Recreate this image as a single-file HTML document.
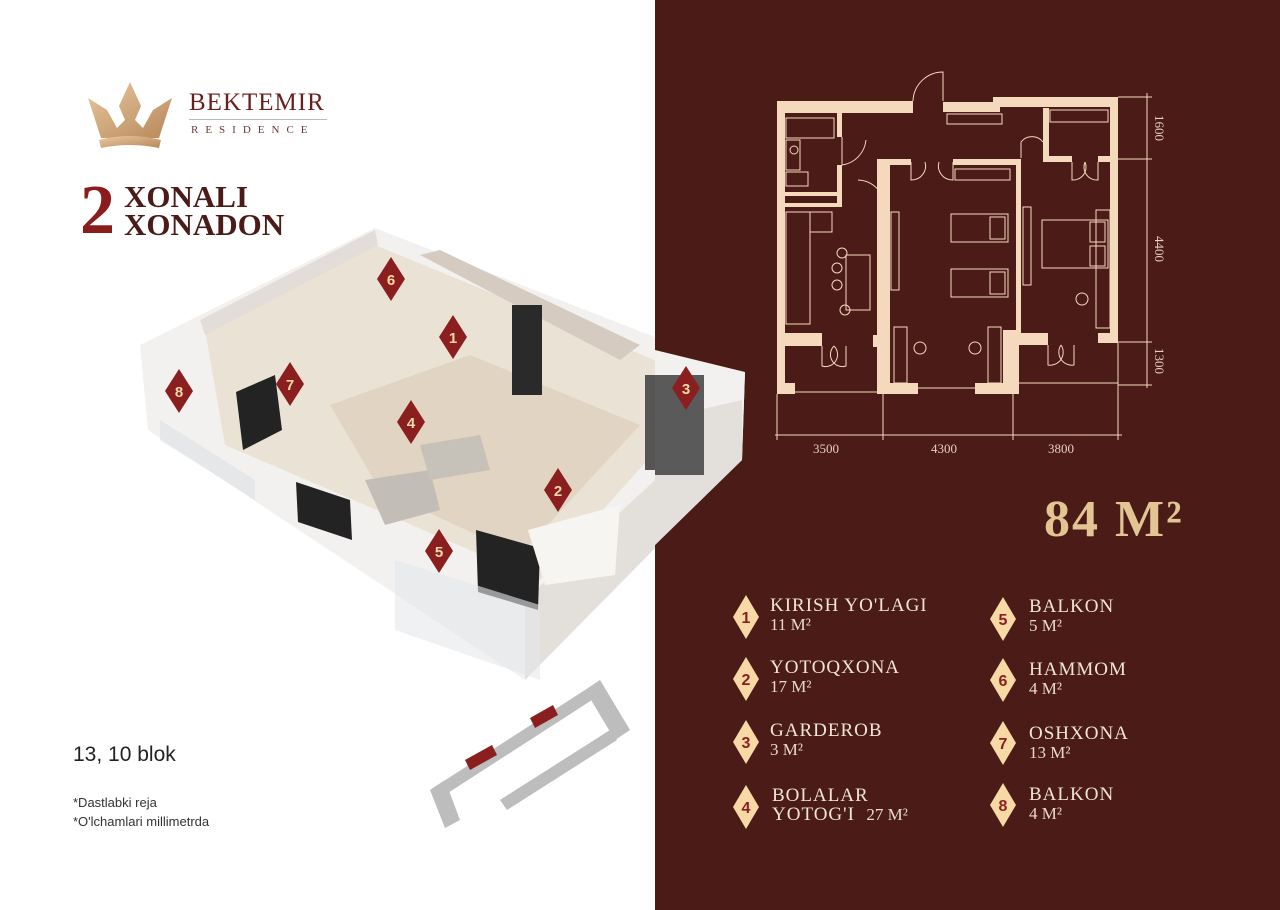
<!DOCTYPE html>
<html><head><meta charset="utf-8"><style>
body{margin:0;width:1280px;height:910px;position:relative;overflow:hidden;background:#fff;font-family:"Liberation Serif",serif}
.r{position:absolute;left:655px;top:0;width:625px;height:910px;background:#4a1b17}
.a{position:absolute}
.lg{position:absolute;color:#f1e4da;font-size:19px;line-height:19px;letter-spacing:1px}
.lg small{font-size:17px;letter-spacing:0;color:#e9d9ce}
</style></head><body>

<!-- 3D render approximation -->
<svg class="a" style="left:0;top:0" width="655" height="910">
<polygon points="140,345 375,228 745,372 742,460 525,680 148,430" fill="#f3f1ef"/>
<polygon points="525,600 742,400 742,460 525,680" fill="#e3dfdb"/>
<polygon points="205,330 375,245 715,385 540,580 225,445" fill="#ebe2d6"/>
<polygon points="330,405 470,355 640,425 520,555 380,490" fill="#e2d4c2"/>
<polygon points="420,255 440,250 640,345 620,360" fill="#d6cbc1"/>
<polygon points="200,320 375,230 378,245 205,335" fill="#e2ddd8"/>
<polygon points="236,392 275,375 282,430 243,450" fill="#232323"/>
<polygon points="296,482 350,500 352,540 298,522" fill="#232323"/>
<polygon points="476,530 540,548 538,610 478,592" fill="#232323"/>
<rect x="512" y="305" width="30" height="90" fill="#2a2a2a"/>
<rect x="645" y="375" width="10" height="95" fill="#555"/>
<polygon points="365,480 430,470 440,510 385,525" fill="#c2bdb7"/>
<polygon points="420,445 480,435 490,470 430,480" fill="#c6c1b9"/>
<polygon points="528,530 620,505 615,575 545,585" fill="#f7f5f2"/>
<polygon points="160,420 255,480 255,500 160,440" fill="#dfe3e6" opacity=".7"/>
<polygon points="395,560 540,605 540,680 395,630" fill="#e4e8ea" opacity=".6"/>
<g fill="#8b1f1f">
<polygon points="391,257 405,279 391,301 377,279"/><polygon points="453,315 467,337 453,359 439,337"/>
<polygon points="686,366 700,388 686,410 672,388"/><polygon points="411,400 425,422 411,444 397,422"/>
<polygon points="558,468 572,490 558,512 544,490"/><polygon points="439,529 453,551 439,573 425,551"/>
<polygon points="290,362 304,384 290,406 276,384"/><polygon points="179,369 193,391 179,413 165,391"/>
</g>
<g fill="#f3d9a8" font-family="Liberation Sans" font-weight="bold" font-size="15" text-anchor="middle">
<text x="391" y="285">6</text><text x="453" y="343">1</text><text x="411" y="428">4</text>
<text x="558" y="496">2</text><text x="439" y="557">5</text><text x="290" y="390">7</text><text x="179" y="397">8</text>
</g>
<g fill="#bdbdbd">
<polygon points="430,790 585,690 592,700 437,800"/>
<polygon points="500,800 610,730 617,740 507,810"/>
<polygon points="585,690 600,680 630,730 615,740"/>
<polygon points="430,790 445,780 460,820 445,828"/>
</g>
<polygon points="465,760 492,745 497,755 470,770" fill="#8b1f1f"/>
<polygon points="530,718 553,705 558,715 535,728" fill="#8b1f1f"/>
</svg>

<div class="r"></div>
<svg class="a" style="left:655px;top:0" width="100" height="500">
<polygon points="0,372 90,372 87,460 0,540" fill="#e6e2de"/>
<rect x="-10" y="375" width="59" height="100" fill="#555"/>
<polygon points="31,366 45,388 31,410 17,388" fill="#8b1f1f"/>
<text x="31" y="394" fill="#f3d9a8" font-family="Liberation Sans" font-weight="bold" font-size="15" text-anchor="middle">3</text>
</svg>
<svg class="a" style="left:655px;top:0" width="90" height="700">
<polygon points="0,350 90,372 87,460 0,545" fill="#f3f1ef"/>
<polygon points="0,420 87,400 87,460 0,545" fill="#e3dfdb"/>
<rect x="-10" y="375" width="59" height="100" fill="#5a5a5a"/>
<polygon points="31,366 45,388 31,410 17,388" fill="#8b1f1f"/>
<text x="31" y="394" fill="#f3d9a8" font-family="Liberation Sans" font-weight="bold" font-size="15" text-anchor="middle">3</text>
</svg>

<!-- logo -->
<svg class="a" style="left:85px;top:80px" width="90" height="70" viewBox="0 0 90 70">
<defs><linearGradient id="g" x1="0" y1="0" x2="1" y2="1"><stop offset="0" stop-color="#e8c9a0"/><stop offset="1" stop-color="#b8875a"/></linearGradient></defs>
<path d="M3 18 L22 30 L32 48 L40 40 L34 26 L45 2 L56 26 L50 40 L58 48 L68 30 L87 18 L74 58 L16 58 Z" fill="url(#g)"/>
<path d="M14 60 Q45 52 76 60 L74 68 Q45 62 16 68Z" fill="url(#g)"/>
</svg>
<div class="a" style="left:189px;top:89px;font-size:25px;color:#6b1f1c;letter-spacing:1px">BEKTEMIR</div>
<div class="a" style="left:189px;top:119px;width:138px;border-top:1px solid #bbb"></div>
<div class="a" style="left:191px;top:124px;font-size:11px;color:#6b3a36;letter-spacing:7px">RESIDENCE</div>
<div class="a" style="left:80px;top:176px;font-size:70px;font-weight:bold;color:#8b1c1c;line-height:70px">2</div>
<div class="a" style="left:124px;top:183px;font-size:31px;font-weight:bold;color:#4a1b17;line-height:28px">XONALI<br>XONADON</div>

<div class="a" style="left:73px;top:743px;font-family:'Liberation Sans',sans-serif;font-size:21px;color:#222">13, 10 blok</div>
<div class="a" style="left:73px;top:793px;font-family:'Liberation Sans',sans-serif;font-size:13px;color:#333;line-height:19px">*Dastlabki reja<br>*O'lchamlari millimetrda</div>

<!-- floor plan -->
<svg class="a" style="left:0;top:0" width="1280" height="910">
<g fill="#f5d9bd">
<rect x="777" y="101" width="8" height="293"/>
<rect x="777" y="101" width="136" height="12"/>
<rect x="943" y="102" width="57" height="10"/>
<rect x="993" y="97" width="125" height="10"/>
<rect x="1110" y="97" width="8" height="246"/>
<rect x="837" y="110" width="5" height="27"/>
<rect x="837" y="165" width="5" height="42"/>
<rect x="784" y="192" width="58" height="4"/>
<rect x="784" y="203" width="58" height="4"/>
<rect x="877" y="160" width="13" height="234"/>
<rect x="877" y="159" width="34" height="6"/>
<rect x="953" y="159" width="67" height="6"/>
<rect x="1016" y="159" width="5" height="180"/>
<rect x="1003" y="330" width="16" height="64"/>
<rect x="1043" y="108" width="6" height="54"/>
<rect x="1043" y="156" width="29" height="6"/>
<rect x="1098" y="156" width="15" height="6"/>
<rect x="777" y="383" width="18" height="11"/>
<rect x="877" y="383" width="41" height="11"/>
<rect x="975" y="383" width="43" height="11"/>
<rect x="783" y="333" width="39" height="13"/>
<rect x="1017" y="333" width="31" height="12"/>
<rect x="1098" y="333" width="20" height="10"/>
<rect x="873" y="335" width="6" height="12"/>
</g>
<g fill="none" stroke="#f5d9bd" stroke-width="1">
<path d="M913 101 A30 30 0 0 1 943 72 L943 101"/>
<path d="M842 137 L842 165 A28 28 0 0 0 866 140"/>
<path d="M885 208 A28 28 0 0 0 858 180"/>
<path d="M911 162 L911 180 A14 14 0 0 0 925 162 M953 162 L953 180 A14 14 0 0 1 939 162"/>
<path d="M1072 162 L1072 180 A13 13 0 0 0 1085 162 M1098 162 L1098 180 A13 13 0 0 1 1085 162"/>
<path d="M1021 158 L1021 142 A14 14 0 0 1 1043 142"/>
<path d="M822 346 L822 366 A12 12 0 0 0 834 346 M846 346 L846 366 A12 12 0 0 1 834 346"/>
<path d="M1048 345 L1048 365 A13 13 0 0 0 1061 345 M1074 345 L1074 365 A13 13 0 0 1 1061 345"/>
<path d="M795 392 L877 392 M918 388 L975 388 M1018 383 L1118 383 M1118 343 L1118 385"/>
<rect x="786" y="118" width="48" height="20"/><rect x="786" y="140" width="14" height="30"/><circle cx="794" cy="150" r="4"/>
<rect x="786" y="172" width="22" height="14"/>
<rect x="786" y="212" width="24" height="112"/><rect x="810" y="212" width="22" height="20"/>
<rect x="846" y="255" width="24" height="55"/>
<circle cx="842" cy="253" r="5"/><circle cx="837" cy="268" r="5"/><circle cx="837" cy="285" r="5"/><circle cx="845" cy="310" r="5"/>
<rect x="947" y="114" width="55" height="10"/><rect x="955" y="169" width="55" height="11"/>
<rect x="891" y="212" width="8" height="78"/><rect x="1023" y="207" width="8" height="78"/>
<rect x="951" y="214" width="57" height="28"/><rect x="990" y="217" width="15" height="22"/>
<rect x="951" y="269" width="57" height="28"/><rect x="990" y="272" width="15" height="22"/>
<rect x="1042" y="220" width="66" height="48"/><rect x="1090" y="222" width="15" height="20"/><rect x="1090" y="246" width="15" height="20"/>
<rect x="1096" y="210" width="14" height="118"/>
<rect x="1050" y="110" width="58" height="12"/>
<rect x="894" y="327" width="13" height="56"/><rect x="988" y="327" width="13" height="56"/>
<circle cx="920" cy="348" r="6"/><circle cx="975" cy="348" r="6"/><circle cx="1082" cy="299" r="6"/>
</g>
<g stroke="#f5d9bd" stroke-width="1">
<line x1="775" y1="435" x2="1122" y2="435"/>
<line x1="777" y1="394" x2="777" y2="440"/><line x1="883" y1="392" x2="883" y2="440"/>
<line x1="1013" y1="392" x2="1013" y2="440"/><line x1="1118" y1="385" x2="1118" y2="440"/>
<line x1="1147" y1="93" x2="1147" y2="388"/>
<line x1="1118" y1="97" x2="1152" y2="97"/><line x1="1118" y1="159" x2="1152" y2="159"/>
<line x1="1118" y1="342" x2="1152" y2="342"/><line x1="1118" y1="385" x2="1152" y2="385"/>
</g>
<g fill="#e8d0bd" font-size="13" font-family="Liberation Serif">
<text x="813" y="453">3500</text><text x="931" y="453">4300</text><text x="1048" y="453">3800</text>
<text transform="translate(1155,115) rotate(90)">1600</text>
<text transform="translate(1155,236) rotate(90)">4400</text>
<text transform="translate(1155,348) rotate(90)">1300</text>
</g>
</svg>

<div class="a" style="left:1044px;top:490px;font-size:52px;font-weight:bold;color:#e3c594;letter-spacing:2px">84 M²</div>

<svg class="a" style="left:0;top:0" width="1280" height="910">
<g fill="#f6d9a4">
<polygon points="746,595 759,617 746,639 733,617"/><polygon points="746,657 759,679 746,701 733,679"/>
<polygon points="746,720 759,742 746,764 733,742"/><polygon points="746,785 759,807 746,829 733,807"/>
<polygon points="1003,597 1016,619 1003,641 990,619"/><polygon points="1003,658 1016,680 1003,702 990,680"/>
<polygon points="1003,721 1016,743 1003,765 990,743"/><polygon points="1003,783 1016,805 1003,827 990,805"/>
</g>
<g fill="#8b1f1f" font-family="Liberation Sans" font-weight="bold" font-size="16" text-anchor="middle">
<text x="746" y="623">1</text><text x="746" y="685">2</text><text x="746" y="748">3</text><text x="746" y="813">4</text>
<text x="1003" y="625">5</text><text x="1003" y="686">6</text><text x="1003" y="749">7</text><text x="1003" y="811">8</text>
</g>
</svg>
<div class="lg" style="left:770px;top:596px">KIRISH YO'LAGI<br><small>11 M²</small></div>
<div class="lg" style="left:770px;top:658px">YOTOQXONA<br><small>17 M²</small></div>
<div class="lg" style="left:770px;top:721px">GARDEROB<br><small>3 M²</small></div>
<div class="lg" style="left:772px;top:786px">BOLALAR<br>YOTOG'I &nbsp;<small>27 M²</small></div>
<div class="lg" style="left:1029px;top:597px">BALKON<br><small>5 M²</small></div>
<div class="lg" style="left:1029px;top:660px">HAMMOM<br><small>4 M²</small></div>
<div class="lg" style="left:1029px;top:724px">OSHXONA<br><small>13 M²</small></div>
<div class="lg" style="left:1029px;top:785px">BALKON<br><small>4 M²</small></div>
</body></html>
